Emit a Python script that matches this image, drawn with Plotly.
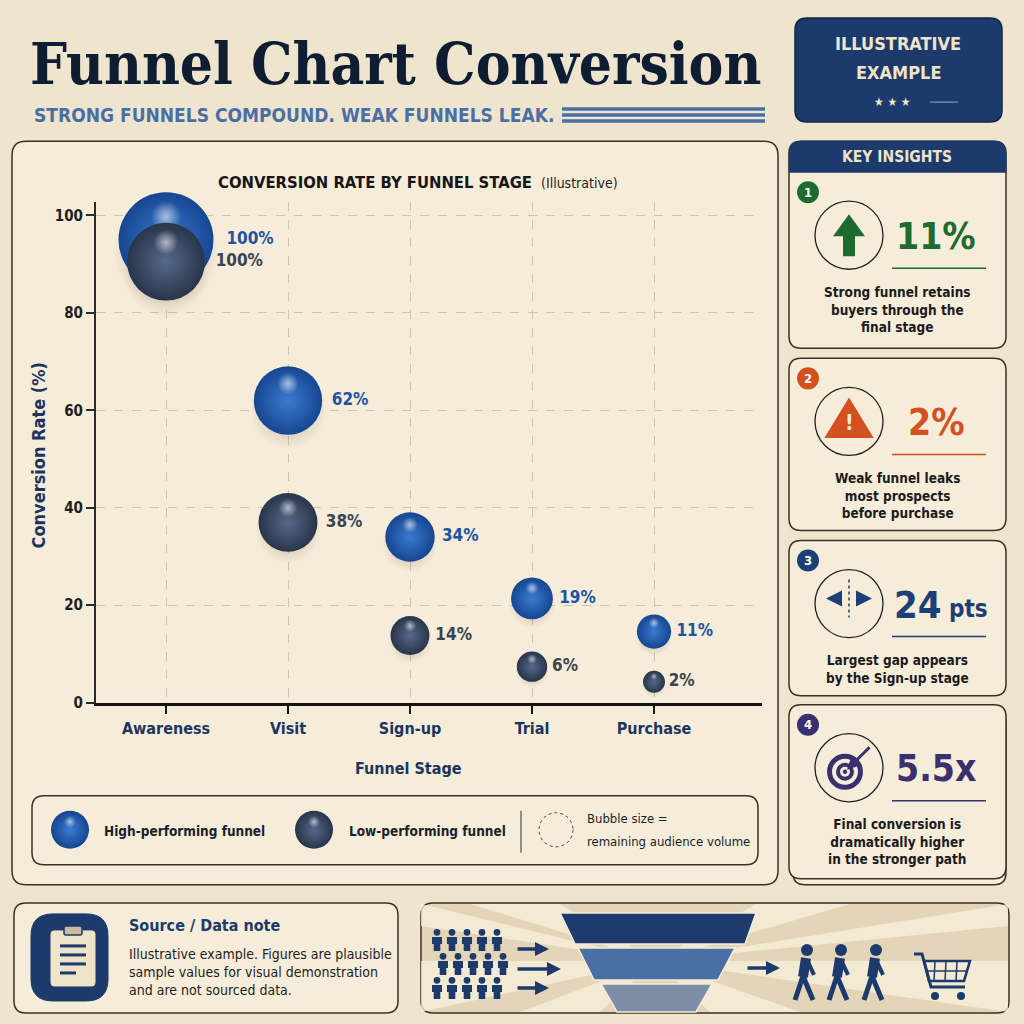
import plotly.graph_objs as go

# chart data
stages = ['Awareness', 'Visit', 'Sign-up', 'Trial', 'Purchase']
high_rate = [100, 62, 34, 19, 11]
low_rate = [100, 38, 14, 6, 2]
# drawn heights of the bubbles (the chart nudges them a little off the label value)
high_plot_y = [95, 62, 34, 21.4, 14.6]
low_plot_y = [90.5, 37, 13.8, 7.4, 4.3]
# remaining audience volume (relative, sets bubble size)
high_volume = [100, 72, 52, 44, 36]
low_volume = [82, 62, 41, 32, 23]
y_ticks = [0, 20, 40, 60, 80, 100]

BG = '#efe4cd'
PANEL = '#f5ecd9'
NAVY = '#1c3a6b'
INK = '#141c2b'
HIGH_EDGE, HIGH_CORE = '#164691', '#3a7bd0'
LOW_EDGE, LOW_CORE = '#28354a', '#56698a'
COND = 'Liberation Sans Narrow, DejaVu Sans Condensed, Roboto Condensed, Arial Narrow, sans-serif'
SLAB = 'DejaVu Serif Condensed, DejaVu Serif, serif'

# layout is designed on a 1024 x 1024 grid; the figure itself is a touch taller
# because the browser viewport that gets photographed is slightly taller than wide
W = H = 1024
FIG_H = 1034
X = lambda x: x / W
Y = lambda y: 1 - y / H

# plot area in pixels
PL, PR, PT, PB = 96, 762, 202, 702
Y_MAX = 102.7
ppu = (PB - PT) * FIG_H / H / Y_MAX
x_step = 122
x_lo = -(166 - PL) / x_step
x_hi = x_lo + (PR - PL) / x_step
SIZEREF = 1 / 0.95

shapes = []
ann = []


def rrect(x0, y0, x1, y1, r, top_only=False):
    if top_only:
        return (f'M {X(x0)},{Y(y1)} L {X(x0)},{Y(y0 + r)} Q {X(x0)},{Y(y0)} {X(x0 + r)},{Y(y0)} '
                f'L {X(x1 - r)},{Y(y0)} Q {X(x1)},{Y(y0)} {X(x1)},{Y(y0 + r)} L {X(x1)},{Y(y1)} Z')
    return (f'M {X(x0 + r)},{Y(y0)} L {X(x1 - r)},{Y(y0)} Q {X(x1)},{Y(y0)} {X(x1)},{Y(y0 + r)} '
            f'L {X(x1)},{Y(y1 - r)} Q {X(x1)},{Y(y1)} {X(x1 - r)},{Y(y1)} '
            f'L {X(x0 + r)},{Y(y1)} Q {X(x0)},{Y(y1)} {X(x0)},{Y(y1 - r)} '
            f'L {X(x0)},{Y(y0 + r)} Q {X(x0)},{Y(y0)} {X(x0 + r)},{Y(y0)} Z')


def poly(pts):
    return 'M ' + ' L '.join(f'{X(a)},{Y(b)}' for a, b in pts) + ' Z'


def box(x0, y0, x1, y1, r=12, fill=PANEL, line='#3a3124', width=1.5, layer='below'):
    shapes.append(dict(type='path', path=rrect(x0, y0, x1, y1, r), xref='paper', yref='paper',
                       fillcolor=fill, line=dict(color=line, width=width), layer=layer))


def line(x0, y0, x1, y1, color, width=1.5, dash='solid', layer='above'):
    shapes.append(dict(type='line', x0=X(x0), y0=Y(y0), x1=X(x1), y1=Y(y1), xref='paper', yref='paper',
                       line=dict(color=color, width=width, dash=dash), layer=layer))


def circle(cx, cy, r, fill='rgba(0,0,0,0)', color='rgba(0,0,0,0)', width=0, dash='solid'):
    shapes.append(dict(type='circle', x0=X(cx - r), y0=Y(cy + r), x1=X(cx + r), y1=Y(cy - r),
                       xref='paper', yref='paper', fillcolor=fill, line=dict(color=color, width=width, dash=dash)))


def text(x, y, s, size, color=INK, weight='bold', xa='center', ya='middle', family=COND, angle=0, align='center'):
    ann.append(dict(x=X(x), y=Y(y), xref='paper', yref='paper', text=s, showarrow=False,
                    xanchor=xa, yanchor=ya, textangle=angle, align=align,
                    font=dict(family=family, size=size, color=color, weight=weight)))


def arrow(hx, hy, ax, ay, color, width=3, head=2, size=1):
    ann.append(dict(x=X(hx), y=Y(hy), xref='paper', yref='paper', text='', showarrow=True,
                    ax=ax, ay=ay, arrowhead=head, arrowwidth=width, arrowsize=size, arrowcolor=color))


def person(cx, top, s=1.0, color=NAVY):
    circle(cx, top + 3.4 * s, 3.4 * s, fill=color)
    shapes.append(dict(type='path', xref='paper', yref='paper', fillcolor=color, line=dict(width=0),
                       path=poly([(cx - 5 * s, top + 8 * s), (cx + 5 * s, top + 8 * s), (cx + 5 * s, top + 15 * s),
                                  (cx + 3.3 * s, top + 15 * s), (cx + 3.3 * s, top + 22 * s), (cx - 3.3 * s, top + 22 * s),
                                  (cx - 3.3 * s, top + 15 * s), (cx - 5 * s, top + 15 * s)])))


def walker(cx, top, color=NAVY):
    circle(cx + 1, top + 6, 6, fill=color)
    line(cx, top + 14, cx - 3, top + 33, color, 10)
    line(cx - 3, top + 32, cx - 11, top + 56, color, 5)
    line(cx - 3, top + 32, cx + 7, top + 56, color, 5)
    line(cx + 1, top + 16, cx + 8, top + 31, color, 4)


# ---------------- header ----------------
text(28, 64, 'Funnel Chart Conversion', 58, '#0f1d33', 'bold', xa='left', family=SLAB)
text(32, 115, 'STRONG FUNNELS COMPOUND. WEAK FUNNELS LEAK.', 19, '#4a6fa5', 'bold', xa='left')
for yy in (109, 115, 121):
    line(562, yy, 765, yy, '#4a6fa5', 3.5)

box(795, 18, 1002, 122, r=12, fill=NAVY, line='#102447', width=1.5, layer='above')
text(898, 43, 'ILLUSTRATIVE', 18, '#efe3c8')
text(898, 72, 'EXAMPLE', 18, '#efe3c8')
text(892, 102, '★ ★ ★', 12, '#efe3c8')
line(930, 102, 958, 102, '#6f86ad', 1.5)

# ---------------- main chart panel ----------------
box(12, 141, 778, 884, r=14)
text(534, 182, 'CONVERSION RATE BY FUNNEL STAGE', 16.5, '#161616', 'bold', xa='right')
text(539, 183, '(Illustrative)', 14, '#222', 'normal', xa='left')
text(408, 768, 'Funnel Stage', 16, '#1c3560')
text(38, 455, 'Conversion Rate (%)', 18, '#1c3560', angle=-90)

# legend box
box(32, 795, 758, 864, r=12)
text(102, 830, 'High-performing funnel', 13.5, '#1a1f2c', xa='left')
text(347, 830, 'Low-performing funnel', 13.5, '#1a1f2c', xa='left')
line(521, 810, 521, 852, '#333', 1)
circle(556, 829, 17, color='#444', width=1, dash='dot')
text(585, 818, 'Bubble size =', 13, '#1a1f2c', 'normal', xa='left')
text(585, 841, 'remaining audience volume', 13, '#1a1f2c', 'normal', xa='left')

# ---------------- key insights ----------------
cards = [
    (141, 348, '1', '#1e6b30', '11%', 'Strong funnel retains<br>buyers through the<br>final stage'),
    (358, 530, '2', '#d4511f', '2%', 'Weak funnel leaks<br>most prospects<br>before purchase'),
    (540, 695, '3', '#1c3f77', '24', 'Largest gap appears<br>by the Sign-up stage'),
    (704, 878, '4', '#3b306e', '5.5x', 'Final conversion is<br>dramatically higher<br>in the stronger path'),
]
box(793, 710, 1006, 884, r=12)
for i, (y0, y1, num, col, big, desc) in enumerate(cards):
    box(789, y0, 1006, y1, r=12)
    top = y0 + (31 if i == 0 else 0)
    cy = top + 63
    circle(808, top + 20, 11, fill=col)
    text(808, top + 20, num, 13, '#ffffff')
    circle(849, cy, 34, color='#222', width=1.3)
    if big == '24':
        text(944, cy + 1, '24', 38, col, xa='right')
        text(947, cy + 5, 'pts', 24, col, xa='left')
    else:
        text(936, cy + 1, big, 37, col)
    line(892, cy + 33, 986, cy + 33, col, 1.5)
    text(897, cy + 56 + (18 if desc.count('<br>') == 2 else 9), desc, 13.5, '#1b1b1b')

shapes.append(dict(type='path', path=rrect(789, 141, 1006, 172, 12, top_only=True), xref='paper', yref='paper',
                   fillcolor=NAVY, line=dict(color=NAVY, width=1), layer='above'))
text(897, 157, 'KEY INSIGHTS', 15.5, '#efe3c8')

# icon 1: up arrow
shapes.append(dict(type='path', xref='paper', yref='paper', fillcolor='#1e6b30', line=dict(width=0),
                   path=poly([(849, 214), (865, 236), (855, 236), (855, 256), (843, 256), (843, 236), (833, 236)])))
# icon 2: warning
shapes.append(dict(type='path', xref='paper', yref='paper', fillcolor='#d4511f', line=dict(color='#d4511f', width=3),
                   path=poly([(849, 400), (871, 436), (827, 436)])))
text(849, 423, '!', 21, '#f5ecd9')
# icon 3: split arrows
line(849, 579, 849, 617, '#1c3f77', 1.5, 'dot')
arrow(826, 598, 17, 0, '#1c3f77', 4, 2, 0.8)
arrow(872, 598, -17, 0, '#1c3f77', 4, 2, 0.8)
# icon 4: target
for r, c in ((18, '#3b306e'), (13, PANEL), (9, '#3b306e'), (5, PANEL), (2.2, '#3b306e')):
    circle(845, 771, r, fill=c)
arrow(847, 769, 24, -24, '#3b306e', 3, 2, 0.9)

# ---------------- bottom: source note ----------------
box(14, 902, 398, 1012, r=12)
box(31, 913, 108, 1000, r=22, fill=NAVY, line=NAVY, width=1, layer='above')
box(51, 930, 95, 985, r=3, fill='#efe3c8', line='#efe3c8', width=1, layer='above')
box(64, 925, 82, 934, r=2, fill='#c8bb9f', line=NAVY, width=1.5, layer='above')
for yy, x1 in ((945, 86), (954, 86), (963, 86), (972, 76)):
    line(60, yy, x1, yy, NAVY, 3)
text(127, 925, 'Source / Data note', 16, NAVY, xa='left')
text(127, 971, 'Illustrative example. Figures are plausible<br>sample values for visual demonstration<br>and are not sourced data.',
     14, '#1e1e1e', 'normal', xa='left', align='left')

# ---------------- bottom: funnel illustration ----------------
box(421, 902, 1009, 1012, r=12, fill='#e4d5b9')
# light rays behind the funnel
for pts in ([(560, 903), (470, 903), (655, 960)], [(756, 903), (850, 903), (655, 960)],
            [(421, 1011), (421, 960), (655, 960)], [(1008, 1011), (1008, 960), (655, 960)],
            [(520, 1011), (600, 1011), (655, 960)], [(710, 1011), (800, 1011), (655, 960)],
            [(1008, 903), (1008, 925), (655, 960)], [(421, 903), (421, 925), (655, 960)]):
    shapes.append(dict(type='path', xref='paper', yref='paper', path=poly(pts),
                       fillcolor='rgba(248,240,222,0.75)', line=dict(width=0)))
bands = [
    ([(560, 912), (756, 912), (745, 943), (575, 943)], '#1d3b6c'),
    ([(578, 947), (735, 947), (718, 979), (594, 979)], '#4a6fa3'),
    ([(601, 983), (712, 983), (696, 1011), (617, 1011)], '#7f8ea7'),
]
for pts, c in bands:
    shapes.append(dict(type='path', xref='paper', yref='paper', path=poly(pts), fillcolor=c,
                       line=dict(color='#f5ecd9', width=1.5)))
for row, top in enumerate((928, 952, 976)):
    for k in range(5):
        person(437 + k * 15 + (6 if row == 1 else 0), top, 1.0)
for yy, L in ((948, 33), (968, 45), (987, 33)):
    arrow(516 + L, yy, -L, 0, NAVY, 3.5, 2, 0.8)
arrow(780, 967, -34, 0, NAVY, 3.5, 2, 0.8)
for cx in (806, 840, 875):
    walker(cx, 943)
# cart
shapes.append(dict(type='path', xref='paper', yref='paper', fillcolor='rgba(0,0,0,0)', line=dict(color=NAVY, width=3),
                   path=f'M {X(914)},{Y(953)} L {X(922)},{Y(953)} L {X(931)},{Y(986)} L {X(965)},{Y(986)}'))
shapes.append(dict(type='path', xref='paper', yref='paper', fillcolor='rgba(0,0,0,0)', line=dict(color=NAVY, width=2.5),
                   path=poly([(924, 960), (970, 960), (964, 980), (929, 980)])))
for xx in (935, 946, 957):
    line(xx, 960, xx - 1, 980, NAVY, 1.5)
line(926, 970, 967, 970, NAVY, 1.5)
circle(935, 995, 4, fill=NAVY)
circle(961, 995, 4, fill=NAVY)

# ---------------- bubbles ----------------
fig = go.Figure()


def bubbles(ys, vols, labels, edge, core, txtcol):
    d = [v / SIZEREF for v in vols]
    fig.add_trace(go.Scatter(
        x=stages, y=[y - 0.3 * s / 2 / ppu for y, s in zip(ys, d)], mode='markers', hoverinfo='skip',
        marker=dict(size=[v * 1.12 for v in vols], sizemode='diameter', sizeref=SIZEREF, opacity=1,
                    color='rgba(70,50,25,0)', line=dict(width=0),
                    gradient=dict(type='radial', color='rgba(70,50,25,0.32)')),
        cliponaxis=False, showlegend=False))
    fig.add_trace(go.Scatter(
        x=stages, y=ys, mode='markers+text', text=[f'{v}%' for v in labels], textposition='middle right',
        textfont=dict(family=COND, size=17, color=txtcol, weight='bold'),
        marker=dict(size=vols, sizemode='diameter', sizeref=SIZEREF, color=edge, line=dict(width=0), opacity=1,
                    gradient=dict(type='radial', color=core)),
        cliponaxis=False, showlegend=False))
    fig.add_trace(go.Scatter(
        x=stages, y=[y + 0.5 * s / 2 / ppu for y, s in zip(ys, d)], mode='markers', hoverinfo='skip',
        marker=dict(size=[v * 0.32 for v in vols], sizemode='diameter', sizeref=SIZEREF, opacity=1,
                    color='rgba(255,255,255,0)', line=dict(width=0),
                    gradient=dict(type='radial', color='rgba(255,255,255,0.6)')),
        cliponaxis=False, showlegend=False))


bubbles(high_plot_y, high_volume, high_rate, HIGH_EDGE, HIGH_CORE, '#1d54a3')
bubbles(low_plot_y, low_volume, low_rate, LOW_EDGE, LOW_CORE, '#3b4350')

# legend spheres on a full-page overlay axis (design grid units)
fig.add_trace(go.Scatter(x=[70, 314], y=[829, 829], xaxis='x2', yaxis='y2', mode='markers', hoverinfo='skip',
                         marker=dict(size=38, color=[HIGH_EDGE, LOW_EDGE], line=dict(width=0), opacity=1,
                                     gradient=dict(type='radial', color=[HIGH_CORE, LOW_CORE])),
                         showlegend=False))
fig.add_trace(go.Scatter(x=[70, 314], y=[821, 821], xaxis='x2', yaxis='y2', mode='markers', hoverinfo='skip',
                         marker=dict(size=12, color='rgba(255,255,255,0)', line=dict(width=0), opacity=1,
                                     gradient=dict(type='radial', color='rgba(255,255,255,0.6)')),
                         showlegend=False))

fig.update_layout(
    width=W, height=FIG_H, margin=dict(l=0, r=0, t=0, b=0, pad=0),
    paper_bgcolor=BG, plot_bgcolor='rgba(0,0,0,0)',
    shapes=shapes, annotations=ann, showlegend=False,
    xaxis=dict(domain=[X(PL), X(PR)], type='category', range=[x_lo, x_hi], showgrid=True,
               gridcolor='#cdc3ae', griddash='dash', gridwidth=1, showline=True, linecolor='#141414', linewidth=2.5,
               ticks='outside', ticklen=9, tickwidth=1.5, tickcolor='#141414', zeroline=False,
               tickfont=dict(family=COND, size=16, color='#1c3560', weight='bold'), fixedrange=True),
    yaxis=dict(domain=[Y(PB), Y(PT)], range=[0, Y_MAX], tickvals=y_ticks, showgrid=True,
               gridcolor='#cdc3ae', griddash='dash', gridwidth=1, showline=True, linecolor='#2a2a2a', linewidth=2,
               ticks='outside', ticklen=8, tickwidth=1.5, tickcolor='#2a2a2a', zeroline=False,
               tickfont=dict(family=COND, size=15, color='#1e1e1e', weight='bold'), fixedrange=True),
    xaxis2=dict(domain=[0, 1], range=[0, W], visible=False, anchor='y2', fixedrange=True),
    yaxis2=dict(domain=[0, 1], range=[H, 0], visible=False, anchor='x2', fixedrange=True),
)

# page tidy-up: no body margin, page background matches the paper
page_js = ("document.documentElement.style.margin='0';document.body.style.margin='0';"
           "document.body.style.background='" + BG + "';document.documentElement.style.background='" + BG + "';"
           "document.documentElement.style.overflow='hidden';document.body.style.overflow='hidden';")
fig.write_html("out.html", config={'displayModeBar': False}, post_script=page_js)
